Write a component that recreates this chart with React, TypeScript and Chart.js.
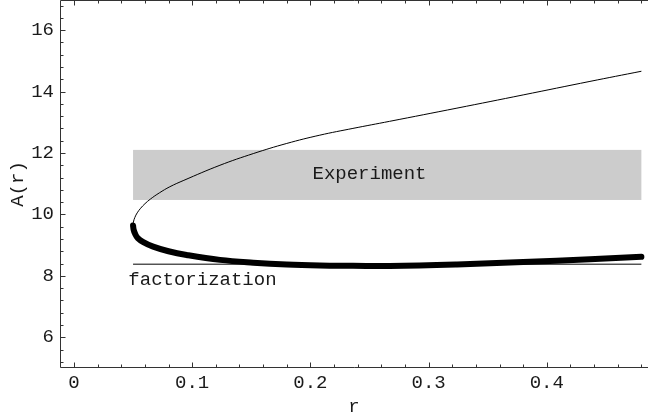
import React, { useEffect, useRef } from "react";
import { Chart, registerables } from "chart.js";

Chart.register(...registerables);

// ---- data ----
const upperR = [0.05, 0.0503, 0.0515, 0.0535, 0.0564, 0.0601, 0.0647, 0.0722, 0.0811, 0.093, 0.1235, 0.1517, 0.18, 0.208, 0.236, 0.267, 0.324, 0.38, 0.4365, 0.48];
const upperA = [9.62, 9.75, 9.9, 10.05, 10.2, 10.35, 10.5, 10.7, 10.9, 11.11, 11.6, 11.98, 12.31, 12.58, 12.8, 13.03, 13.46, 13.89, 14.33, 14.66];
const lowerR = [0.05, 0.0505, 0.0516, 0.054, 0.0587, 0.067, 0.08, 0.0953, 0.1235, 0.1517, 0.18, 0.208, 0.236, 0.267, 0.324, 0.38, 0.4365, 0.48];
const lowerA = [9.64, 9.5, 9.38, 9.23, 9.1, 8.95, 8.8, 8.68, 8.52, 8.43, 8.37, 8.34, 8.33, 8.32, 8.37, 8.45, 8.54, 8.62];
const factorR = [0.05, 0.48];
const factorA = [8.38, 8.38];
const experimentR = [0.05, 0.48];
const experimentA = [10.47, 12.1];
const experimentLabel = "Experiment";
const experimentLabelPos = [0.25, 11.14];
const factorLabel = "factorization";
const factorLabelPos = [0.046, 7.69];

const xTicks = [0, 0.1, 0.2, 0.3, 0.4];
const xTickLabels = ["0", "0.1", "0.2", "0.3", "0.4"];
const yTicks = [6, 8, 10, 12, 14, 16];
const yTickLabels = ["6", "8", "10", "12", "14", "16"];
const xMinorStep = 0.02;
const yMinorStep = 0.4;
const xRange = [-0.0118, 0.4856];
const yRange = [5, 16.98];
const xTitle = "r";
const yTitle = "A(r)";

const FONT = "'Liberation Mono', 'Courier New', monospace";
const TEXT = "#1a1a1a";
const AXIS = "#333333";

const toPts = (xs: number[], ys: number[]) => xs.map((x, i) => ({ x, y: ys[i] }));

const framePlugin = {
  id: "framePlugin",
  beforeDatasetsDraw(chart: any) {
    const { ctx, scales } = chart;
    const x = scales.x, y = scales.y;
    ctx.save();
    const x0 = x.getPixelForValue(experimentR[0]);
    const x1 = x.getPixelForValue(experimentR[1]);
    const y0 = y.getPixelForValue(experimentA[1]);
    const y1 = y.getPixelForValue(experimentA[0]);
    ctx.fillStyle = "#cccccc";
    ctx.fillRect(x0, y0, x1 - x0, y1 - y0);
    ctx.fillStyle = TEXT;
    ctx.font = `19px ${FONT}`;
    ctx.textBaseline = "alphabetic";
    ctx.textAlign = "center";
    ctx.fillText(experimentLabel, x.getPixelForValue(experimentLabelPos[0]), y.getPixelForValue(experimentLabelPos[1]));
    ctx.textAlign = "left";
    ctx.fillText(factorLabel, x.getPixelForValue(factorLabelPos[0]), y.getPixelForValue(factorLabelPos[1]));
    ctx.restore();
  },
  afterDraw(chart: any) {
    const { ctx, scales, chartArea } = chart;
    const x = scales.x, y = scales.y;
    const L = chartArea.left + 0.5;
    const B = chartArea.bottom - 0.5;
    const T = chartArea.top + 0.5;
    const R = chartArea.right;
    ctx.save();
    ctx.strokeStyle = AXIS;
    ctx.lineWidth = 1;
    ctx.beginPath();
    ctx.moveTo(L, T);
    ctx.lineTo(L, B);
    ctx.lineTo(R, B);
    ctx.moveTo(L, T);
    ctx.lineTo(R, T);
    const isMajor = (v: number, arr: number[]) => arr.some((m) => Math.abs(m - v) < 1e-6);
    for (let k = -1; k <= 30; k++) {
      const v = k * xMinorStep;
      if (v < xRange[0] || v > xRange[1]) continue;
      const px = Math.round(x.getPixelForValue(v)) + 0.5;
      const len = isMajor(v, xTicks) ? 5 : 3;
      ctx.moveTo(px, B);
      ctx.lineTo(px, B - len);
      ctx.moveTo(px, T);
      ctx.lineTo(px, T + len);
    }
    for (let k = 0; k <= 60; k++) {
      const val = 4.8 + k * yMinorStep;
      if (val <= yRange[0] || val > yRange[1]) continue;
      const py = Math.round(y.getPixelForValue(val)) + 0.5;
      const len = isMajor(val, yTicks) ? 5 : 3;
      ctx.moveTo(L, py);
      ctx.lineTo(L + len, py);
    }
    ctx.stroke();
    ctx.restore();
  },
};

export default function App() {
  const ref = useRef<HTMLCanvasElement>(null);
  useEffect(() => {
    if (!ref.current) return;
    const chart = new Chart(ref.current, {
      type: "scatter",
      data: {
        datasets: [
          {
            data: toPts(factorR, factorA),
            showLine: true,
            borderColor: "#000",
            borderWidth: 1,
            pointRadius: 0,
            tension: 0,
          },
          {
            data: toPts(upperR, upperA),
            showLine: true,
            borderColor: "#000",
            borderWidth: 1,
            pointRadius: 0,
            tension: 0.4,
          },
          {
            data: toPts(lowerR, lowerA),
            showLine: true,
            borderColor: "#000",
            borderWidth: 6,
            borderCapStyle: "round",
            borderJoinStyle: "round",
            pointRadius: 0,
            tension: 0.4,
          },
        ],
      },
      options: {
        animation: false,
        responsive: false,
        devicePixelRatio: 1,
        layout: { padding: 0 },
        plugins: { legend: { display: false }, tooltip: { enabled: false } },
        scales: {
          x: {
            type: "linear",
            min: xRange[0],
            max: xRange[1],
            afterBuildTicks: (s: any) => {
              s.ticks = xTicks.map((v) => ({ value: v }));
            },
            afterFit: (s: any) => {
              s.height = 49;
              s.paddingLeft = 0;
              s.paddingRight = 0;
            },
            ticks: {
              autoSkip: false,
              maxRotation: 0,
              padding: 4,
              color: TEXT,
              font: { family: FONT, size: 19, lineHeight: 1.2 },
              callback: (_v: any, i: number) => xTickLabels[i],
            },
            grid: { display: false, drawTicks: false },
            border: { display: false },
            title: {
              display: true,
              text: xTitle,
              color: TEXT,
              font: { family: FONT, size: 19, lineHeight: 1.2 },
              padding: { top: 0, bottom: -1 },
            },
          },
          y: {
            type: "linear",
            min: yRange[0],
            max: yRange[1],
            afterBuildTicks: (s: any) => {
              s.ticks = yTicks.map((v) => ({ value: v }));
            },
            afterFit: (s: any) => {
              s.width = 60;
              s.paddingTop = 0;
              s.paddingBottom = 0;
            },
            ticks: {
              autoSkip: false,
              padding: 6,
              color: TEXT,
              font: { family: FONT, size: 19, lineHeight: 1.2 },
              callback: (_v: any, i: number) => yTickLabels[i],
            },
            grid: { display: false, drawTicks: false },
            border: { display: false },
            title: {
              display: true,
              text: yTitle,
              color: TEXT,
              font: { family: FONT, size: 19, lineHeight: 1.2 },
              padding: { top: 6.6, bottom: 0 },
            },
          },
        },
      },
      plugins: [framePlugin],
    } as any);
    return () => chart.destroy();
  }, []);
  return (
    <div style={{ position: "fixed", left: 0, top: 0, width: 648, height: 417, background: "#fff" }}>
      <canvas ref={ref} width={648} height={417} style={{ display: "block" }} />
    </div>
  );
}
